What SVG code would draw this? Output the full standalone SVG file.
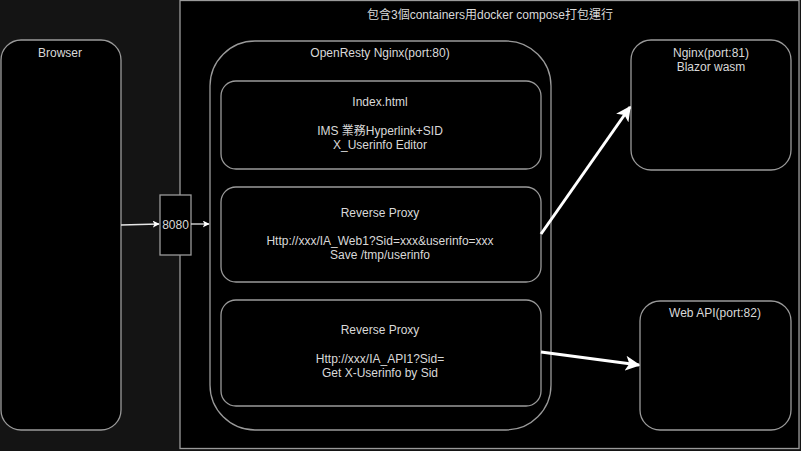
<svg xmlns="http://www.w3.org/2000/svg" width="801" height="451" viewBox="0 0 801 451">
<style>
.box{fill:#000;stroke:#9a9a9a;stroke-width:1.3}
.t{font-family:"Liberation Sans","Noto Sans CJK TC",sans-serif;font-size:12px;fill:#d9d9d9;text-anchor:middle}
.thin{stroke:#e6e6e6;stroke-width:1.3;fill:none}
.thick{stroke:#fff;stroke-width:3;fill:none}
</style>
<defs>
<marker id="a1" viewBox="0 0 10 10" refX="9" refY="5" markerWidth="7" markerHeight="7" markerUnits="userSpaceOnUse" orient="auto"><path d="M0,0L10,5L0,10L2.5,5Z" fill="#fff"/></marker>
<marker id="a2" viewBox="0 0 10 10" refX="9" refY="5" markerWidth="15" markerHeight="15" markerUnits="userSpaceOnUse" orient="auto"><path d="M0,0L10,5L0,10L2.5,5Z" fill="#fff"/></marker>
</defs>
<rect width="801" height="451" fill="#141414"/>
<g id="container">
<rect x="180" y="0.5" width="619" height="448" class="box"/>
<text x="490" y="19" class="t">包含3個containers用docker compose打包運行</text>
</g>
<g id="browser">
<rect x="1" y="40" width="120" height="390" rx="20" class="box"/>
<text x="60" y="57" class="t">Browser</text>
</g>
<g id="port8080">
<rect x="160" y="195" width="31" height="60" class="box"/>
<text x="175.5" y="229" class="t">8080</text>
</g>
<g id="openresty">
<rect x="210" y="41" width="341" height="389" rx="45" class="box"/>
<text x="380" y="57" class="t">OpenResty Nginx(port:80)</text>
</g>
<g id="index">
<rect x="221" y="81" width="320" height="88" rx="15" class="box"/>
<text x="380" y="106" class="t">Index.html</text>
<text x="380" y="135" class="t">IMS 業務Hyperlink+SID</text>
<text x="380" y="149" class="t">X_Userinfo Editor</text>
</g>
<g id="proxy1">
<rect x="221" y="187" width="320" height="95" rx="15" class="box"/>
<text x="380" y="217" class="t">Reverse Proxy</text>
<text x="380" y="245" class="t">Http://xxx/IA_Web1?Sid=xxx&amp;userinfo=xxx</text>
<text x="380" y="259" class="t">Save /tmp/userinfo</text>
</g>
<g id="proxy2">
<rect x="221" y="300" width="320" height="106" rx="15" class="box"/>
<text x="380" y="334" class="t">Reverse Proxy</text>
<text x="380" y="363" class="t">Http://xxx/IA_API1?Sid=</text>
<text x="380" y="377" class="t">Get X-Userinfo by Sid</text>
</g>
<g id="nginx81">
<rect x="631" y="40" width="160" height="130" rx="20" class="box"/>
<text x="711" y="57" class="t">Nginx(port:81)</text>
<text x="711" y="71" class="t">Blazor wasm</text>
</g>
<g id="webapi">
<rect x="640" y="301" width="151" height="129" rx="20" class="box"/>
<text x="715" y="317" class="t">Web API(port:82)</text>
</g>
<g id="connectors">
<line x1="121" y1="225" x2="159" y2="224" class="thin" marker-end="url(#a1)"/>
<line x1="191" y1="224" x2="209" y2="224" class="thin" marker-end="url(#a1)"/>
<line x1="541" y1="234" x2="630" y2="107" class="thick" marker-end="url(#a2)"/>
<line x1="541" y1="352" x2="639" y2="365" class="thick" marker-end="url(#a2)"/>
</g>
</svg>
